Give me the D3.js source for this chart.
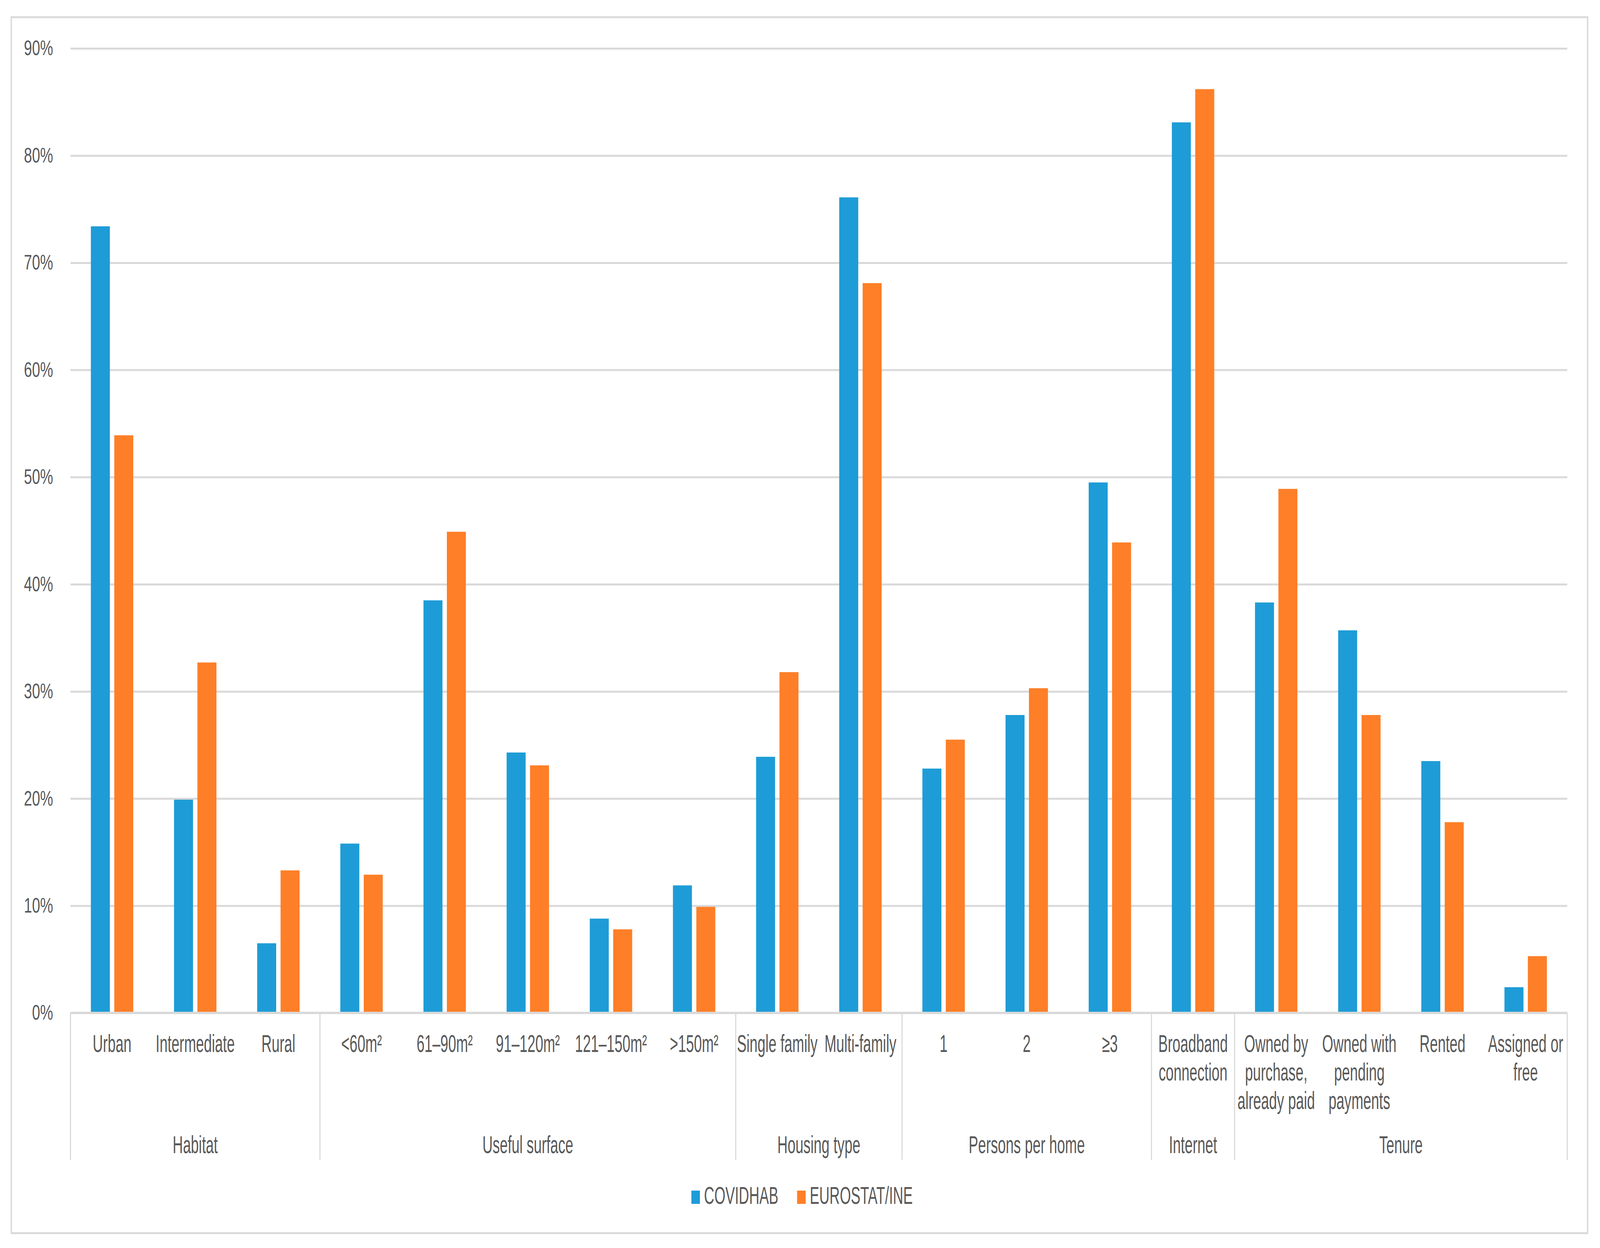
<!DOCTYPE html>
<html>
<head>
<meta charset="utf-8">
<script src="https://cdn.jsdelivr.net/npm/d3@7"></script>
<style>
  html, body { margin: 0; padding: 0; background: #fff; overflow: hidden; width: 100%; height: 100%; }
  #chart svg { display: block; width: 100vw; height: 100vh; }
  text { font-family: "Liberation Sans", Arial, sans-serif; fill: #595959; }
</style>
</head>
<body>
<div id="chart"></div>
<script>
// data
var categories = ["Urban", "Intermediate", "Rural",
	"<60m²", "61–90m²", "91–120m²", "121–150m²", ">150m²",
	"Single family", "Multi-family",
	"1", "2", "≥3",
	"Broadband connection",
	"Owned by purchase, already paid", "Owned with pending payments", "Rented", "Assigned or free"];
var categoryLines = [["Urban"], ["Intermediate"], ["Rural"],
	["<60m²"], ["61–90m²"], ["91–120m²"], ["121–150m²"], [">150m²"],
	["Single family"], ["Multi-family"],
	["1"], ["2"], ["≥3"],
	["Broadband", "connection"],
	["Owned by", "purchase,", "already paid"], ["Owned with", "pending", "payments"], ["Rented"], ["Assigned or", "free"]];
var groupNames = ["Habitat", "Useful surface", "Housing type", "Persons per home", "Internet", "Tenure"];
var groupSizes = [3, 5, 2, 3, 1, 4];
var seriesNames = ["COVIDHAB", "EUROSTAT/INE"];
var covidhab = [73.4, 19.9, 6.5, 15.8, 38.5, 24.3, 8.8, 11.9, 23.9, 76.1, 22.8, 27.8, 49.5, 83.1, 38.3, 35.7, 23.5, 2.4];
var eurostat = [53.9, 32.7, 13.3, 12.9, 44.9, 23.1, 7.8, 9.9, 31.8, 68.1, 25.5, 30.3, 43.9, 86.2, 48.9, 27.8, 17.8, 5.3];
var yTicks = [0, 0.1, 0.2, 0.3, 0.4, 0.5, 0.6, 0.7, 0.8, 0.9];

// chart settings
var W = 5811, H = 3196;
var colors = ["#1e9cd7", "#fe7f27"];
var gridColor = "#d9d9d9";
var narrow = 0.82;
var plot = { left: 256, right: 5692, top: 124, bottom: 2594 };

// build rows for the bars
var rows = categories.map(function(c, i) {
	return { cat: c, values: [covidhab[i] / 100, eurostat[i] / 100] };
});

// scales
var x0 = d3.scaleBand().domain(categories).range([plot.left, plot.right]).padding(0);
var bw = x0.bandwidth();
var x1 = d3.scaleBand().domain(seriesNames)
	.range([bw / 2 - 77, bw / 2 + 77]).paddingInner(0.188);
var y = d3.scaleLinear().domain([0, 0.9]).range([plot.bottom, plot.top]);
var color = d3.scaleOrdinal().domain(seriesNames).range(colors);

// svg fills the whole window, drawn in the reference's pixel space
var svg = d3.select("#chart").append("svg")
	.attr("viewBox", "0 0 " + W + " " + H)
	.attr("preserveAspectRatio", "none");

// outer frame
svg.append("rect")
	.attr("x", 41).attr("y", 44)
	.attr("width", 5725).attr("height", 3114)
	.attr("fill", "#fff").attr("stroke", gridColor).attr("stroke-width", 5);

// y axis with gridlines
var yAxis = d3.axisLeft(y)
	.tickValues(yTicks)
	.tickFormat(d3.format(".0%"))
	.tickSize(-(plot.right - plot.left))
	.tickPadding(63);

svg.append("g")
	.attr("class", "y axis")
	.attr("transform", "translate(" + plot.left + ",0)")
	.call(yAxis)
	.call(function(g) { g.select(".domain").remove(); })
	.call(function(g) {
		g.selectAll(".tick line").attr("stroke", gridColor).attr("stroke-width", 5);
		g.selectAll(".tick text")
			.style("font-family", "'Liberation Sans', Arial, sans-serif")
			.attr("font-size", 53).attr("fill", "#595959");
	});

// bars
var groups = svg.append("g").selectAll("g")
	.data(rows)
	.enter().append("g")
	.attr("transform", function(d) { return "translate(" + x0(d.cat) + ",0)"; });

groups.selectAll("rect")
	.data(function(d) { return seriesNames.map(function(s, i) { return { key: s, value: d.values[i] }; }); })
	.enter().append("rect")
	.attr("x", function(d) { return x1(d.key); })
	.attr("y", function(d) { return y(d.value); })
	.attr("width", x1.bandwidth())
	.attr("height", function(d) { return y(0) - y(d.value); })
	.attr("fill", function(d) { return color(d.key); });

// x axis line
svg.append("line")
	.attr("x1", plot.left).attr("x2", plot.right)
	.attr("y1", y(0)).attr("y2", y(0))
	.attr("stroke", gridColor).attr("stroke-width", 6);

// group separators and group labels
var bounds = [0];
groupSizes.forEach(function(n, i) { bounds.push(bounds[i] + n); });

svg.append("g").selectAll("line")
	.data(bounds)
	.enter().append("line")
	.attr("x1", function(b) { return b < categories.length ? x0(categories[b]) : plot.right; })
	.attr("x2", function(b) { return b < categories.length ? x0(categories[b]) : plot.right; })
	.attr("y1", y(0)).attr("y2", 2970)
	.attr("stroke", gridColor).attr("stroke-width", 4);

svg.append("g").selectAll("text")
	.data(groupNames)
	.enter().append("text")
	.attr("transform", function(d, i) {
		var cx = x0(categories[bounds[i]]) + bw * groupSizes[i] / 2;
		return "translate(" + cx + ",2953) scale(" + narrow + ",1)";
	})
	.attr("text-anchor", "middle")
	.attr("font-size", 63)
	.text(function(d) { return d; });

// category labels, wrapped like the original
var catLabels = svg.append("g").selectAll("text")
	.data(categories)
	.enter().append("text")
	.attr("transform", function(d) {
		return "translate(" + (x0(d) + bw / 2) + ",2694) scale(" + narrow + ",1)";
	})
	.attr("text-anchor", "middle")
	.attr("font-size", 63);

catLabels.each(function(d, i) {
	var t = d3.select(this);
	categoryLines[i].forEach(function(line, j) {
		t.append("tspan").attr("x", 0).attr("dy", j === 0 ? 0 : 73).text(line);
	});
});

// legend
var legendX = [2511, 2895];
var legend = svg.append("g").selectAll("g")
	.data(seriesNames)
	.enter().append("g")
	.attr("transform", function(d, i) { return "translate(" + legendX[i] + ",3083)"; });

legend.append("rect")
	.attr("x", 0).attr("y", -34)
	.attr("width", 31).attr("height", 34)
	.attr("fill", function(d) { return color(d); });

legend.append("text")
	.attr("transform", "translate(46,0) scale(" + narrow + ",1)")
	.attr("font-size", 63)
	.text(function(d) { return d; });
</script>
</body>
</html>
